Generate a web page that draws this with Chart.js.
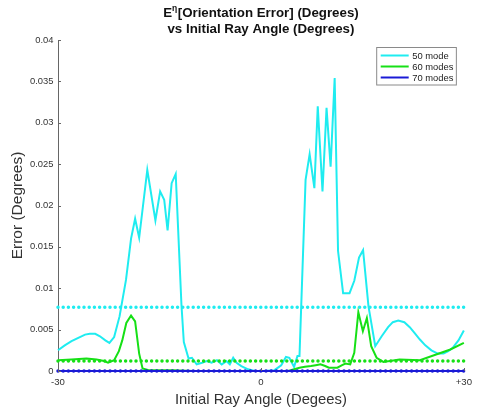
<!DOCTYPE html>
<html><head><meta charset="utf-8">
<script src="https://cdn.jsdelivr.net/npm/chart.js@4/dist/chart.umd.min.js"></script>
<style>html,body{margin:0;padding:0;background:#fff}#wrap{width:478px;height:412px}</style>
</head><body><div id="wrap"><canvas id="c" width="478" height="412"></canvas></div>
<script>
const seriesLabels = ['50 mode', '60 modes', '70 modes'];
const cyanAngles = [-30, -29, -28, -27, -26, -25.3, -24.5, -23.8, -23, -22.4, -21.7, -20.9, -19.95, -19.2, -18.6, -18.0, -16.8, -15.6, -14.9, -14.3, -13.8, -13.2, -12.6, -11.75, -11.4, -10.7, -10.2, -9.5, -8.7, -8.0, -7.3, -6.5, -5.8, -5.1, -4.6, -4.1, -3.6, -2.9, -1.9, -0.9, 0.5, 2.0, 3.0, 3.7, 4.2, 4.9, 5.4, 5.7, 6.6, 7.2, 7.9, 8.4, 9.1, 9.7, 10.3, 10.9, 11.4, 12.15, 13.1, 13.8, 14.5, 15.1, 15.9, 16.9, 17.85, 18.8, 19.5, 20.3, 21.2, 22.0, 22.7, 23.5, 24.3, 25.2, 26.15, 27.0, 27.7, 28.35, 29.2, 30];
const cyanValues = [0.0025, 0.0031, 0.0036, 0.0040, 0.0044, 0.0045, 0.0045, 0.0042, 0.0037, 0.0034, 0.0041, 0.0066, 0.0110, 0.0160, 0.0184, 0.0161, 0.0243, 0.0182, 0.0217, 0.0207, 0.0170, 0.0227, 0.0238, 0.0080, 0.0035, 0.0015, 0.0016, 0.0008, 0.0010, 0.0012, 0.0010, 0.0013, 0.0008, 0.0012, 0.0008, 0.0016, 0.0010, 0.0006, 0.0002, 0.0000, 0.0000, 0.0001, 0.0007, 0.0017, 0.0016, 0.0005, 0.0018, 0.0018, 0.0231, 0.0262, 0.0221, 0.0320, 0.0217, 0.0318, 0.0247, 0.0354, 0.0145, 0.0094, 0.0094, 0.0109, 0.0137, 0.0146, 0.0078, 0.0030, 0.0042, 0.0053, 0.0059, 0.0061, 0.0059, 0.0053, 0.0046, 0.0038, 0.0031, 0.0025, 0.0021, 0.0021, 0.0024, 0.0028, 0.0037, 0.0049];
const greenAngles = [-30, -28, -25.8, -24.3, -23.2, -22.6, -21.7, -21.0, -20.5, -19.9, -19.2, -18.6, -18.0, -17.5, -16.6, -15.0, -13.0, -10.0, -5.0, 0, 4.0, 5.7, 6.5, 7.4, 8.1, 8.8, 9.5, 10.05, 11.3, 12.0, 12.5, 13.2, 13.8, 14.4, 15.07, 15.66, 16.3, 17.1, 18.1, 20.5, 23.5, 25.9, 28.0, 30];
const greenValues = [0.0013, 0.0014, 0.0015, 0.0014, 0.0012, 0.0010, 0.0013, 0.0024, 0.0037, 0.0058, 0.0067, 0.0060, 0.0021, 0.0003, 0.0001, 0.0001, 0.0001, 0.0000, 0.0000, 0.0000, 0.0000, 0.0004, 0.0005, 0.0006, 0.0007, 0.0008, 0.0006, 0.0004, 0.0004, 0.0007, 0.0009, 0.0008, 0.0022, 0.0071, 0.0048, 0.0064, 0.0030, 0.0016, 0.0011, 0.0014, 0.0013, 0.0020, 0.0026, 0.0034];
const blueAngles = [-30, -15, 0, 15, 30];
const blueValues = [0, 0, 0, 0, 0];
const meanAngles = [-30, 30];
const meanValues = [0.0077, 0.0012, 0];
const xTickValues = [-30, 0, 30];
const xTickLabels = ['-30', '0', '+30'];
const yTickValues = [0, 0.005, 0.01, 0.015, 0.02, 0.025, 0.03, 0.035, 0.04];
const yTickLabels = ['0', '0.005', '0.01', '0.015', '0.02', '0.025', '0.03', '0.035', '0.04'];

const colors = ['#1fecf0', '#16e016', '#1a1ad6'];
const FONT = 'Liberation Sans, Arial, Helvetica, sans-serif';

function pts(xs, ys) { return xs.map((x, i) => ({x: x, y: ys[i]})); }
function meanPts(v) { return meanAngles.map(x => ({x: x, y: v})); }

const lineSets = [
  {xs: cyanAngles, ys: cyanValues},
  {xs: greenAngles, ys: greenValues},
  {xs: blueAngles, ys: blueValues}
];

const datasets = [];
lineSets.forEach((s, i) => {
  datasets.push({
    label: seriesLabels[i], data: pts(s.xs, s.ys), borderColor: colors[i], backgroundColor: colors[i],
    borderWidth: 2, pointRadius: 0, tension: 0, clip: 6, fill: false, order: 10 - i
  });
});
meanValues.forEach((v, i) => {
  datasets.push({
    label: seriesLabels[i] + ' mean', data: meanPts(v), borderColor: colors[i], backgroundColor: colors[i],
    borderWidth: 3.5, borderDash: [0, 5.2], borderCapStyle: 'round', pointRadius: 0, tension: 0, clip: 6,
    fill: false, order: 3 - i
  });
});

const titlePlugin = {
  id: 'mtitle',
  afterDraw(chart) {
    const ctx = chart.ctx, ca = chart.chartArea;
    const cx = (ca.left + ca.right) / 2;
    ctx.save();
    ctx.fillStyle = '#111';
    ctx.textBaseline = 'middle';
    const big = 'bold 13.3px ' + FONT, small = 'bold 8.5px ' + FONT;
    const p1 = 'E', sup = '\u03b7', p2 = '[Orientation Error] (Degrees)';
    ctx.font = big; const w1 = ctx.measureText(p1).width, w3 = ctx.measureText(p2).width;
    ctx.font = small; const w2 = ctx.measureText(sup).width + 0.5;
    let x = cx - (w1 + w2 + w3) / 2;
    ctx.textAlign = 'left';
    ctx.font = big; ctx.fillText(p1, x, 13.5); x += w1;
    ctx.font = small; ctx.fillText(sup, x, 9); x += w2;
    ctx.font = big; ctx.fillText(p2, x, 13.5);
    ctx.textAlign = 'center';
    ctx.fillText('vs Initial Ray Angle (Degrees)', cx, 29.5);
    ctx.restore();
  }
};

const legendPlugin = {
  id: 'mlegend',
  afterDraw(chart) {
    const ctx = chart.ctx, ca = chart.chartArea;
    ctx.save();
    ctx.font = '9.4px ' + FONT;
    let tw = 0;
    seriesLabels.forEach(l => { tw = Math.max(tw, ctx.measureText(l).width); });
    const lineW = 28, pad = 4, gap = 3.5, rowH = 11;
    const w = pad + lineW + gap + tw + 3;
    const h = 37.5;
    const right = ca.right - 7.5, top = ca.top + 7.5;
    const left = right - w;
    ctx.fillStyle = '#fff';
    ctx.fillRect(left, top, w, h);
    ctx.strokeStyle = '#8a8a8a'; ctx.lineWidth = 1;
    ctx.strokeRect(left, top, w, h);
    seriesLabels.forEach((l, i) => {
      const y = top + 8 + i * rowH;
      ctx.strokeStyle = colors[i]; ctx.lineWidth = 2;
      ctx.beginPath(); ctx.moveTo(left + pad, y); ctx.lineTo(left + pad + lineW, y); ctx.stroke();
      ctx.fillStyle = '#222'; ctx.textBaseline = 'middle'; ctx.textAlign = 'left';
      ctx.fillText(l, left + pad + lineW + gap, y + 0.5);
    });
    ctx.restore();
  }
};

const tickMarkPlugin = {
  id: 'inticks',
  afterDatasetsDraw(chart) {
    const ctx = chart.ctx, ca = chart.chartArea;
    const xs = chart.scales.x, ys = chart.scales.y;
    ctx.save();
    ctx.strokeStyle = '#666'; ctx.lineWidth = 1;
    yTickValues.forEach(v => {
      const y = Math.round(ys.getPixelForValue(v)) + 0.5;
      ctx.beginPath(); ctx.moveTo(ca.left, y); ctx.lineTo(ca.left + 3, y); ctx.stroke();
    });
    xTickValues.forEach(v => {
      const x = Math.round(xs.getPixelForValue(v)) + 0.5;
      ctx.beginPath(); ctx.moveTo(x, ca.bottom); ctx.lineTo(x, ca.bottom - 3); ctx.stroke();
    });
    ctx.restore();
  }
};

new Chart(document.getElementById('c'), {
  type: 'line',
  data: {datasets: datasets},
  options: {
    responsive: false, animation: false, devicePixelRatio: 1,
    layout: {padding: {top: 40, right: 10, left: 0, bottom: 0}},
    plugins: {legend: {display: false}, title: {display: false}, tooltip: {enabled: false}},
    scales: {
      x: {
        type: 'linear', min: -30, max: 30,
        afterBuildTicks: s => { s.ticks = xTickValues.map(v => ({value: v})); },
        afterFit: s => { s.height = 41; },
        grid: {display: true, drawOnChartArea: false, drawTicks: false},
        border: {display: true, color: '#666', width: 1},
        ticks: {
          padding: 6, color: '#333', font: {family: FONT, size: 9.6}, maxRotation: 0, autoSkip: false,
          callback: (v) => { const i = xTickValues.indexOf(v); return i >= 0 ? xTickLabels[i] : ''; }
        },
        title: {display: true, text: 'Initial Ray Angle (Degees)', color: '#333', font: {family: FONT, size: 14.8}, padding: {top: 0, bottom: 3}}
      },
      y: {
        type: 'linear', min: 0, max: 0.04,
        afterBuildTicks: s => { s.ticks = yTickValues.map(v => ({value: v})); },
        afterFit: s => { s.width = 58; },
        grid: {display: true, drawOnChartArea: false, drawTicks: false},
        border: {display: true, color: '#666', width: 1},
        ticks: {
          padding: 4.5, color: '#333', font: {family: FONT, size: 9.4}, autoSkip: false,
          callback: (v) => { const i = yTickValues.indexOf(v); return i >= 0 ? yTickLabels[i] : ''; }
        },
        title: {display: true, text: 'Error (Degrees)', color: '#333', font: {family: FONT, size: 15.5}, padding: {top: 8, bottom: 0}}
      }
    }
  },
  plugins: [titlePlugin, legendPlugin, tickMarkPlugin]
});
</script></body></html>
